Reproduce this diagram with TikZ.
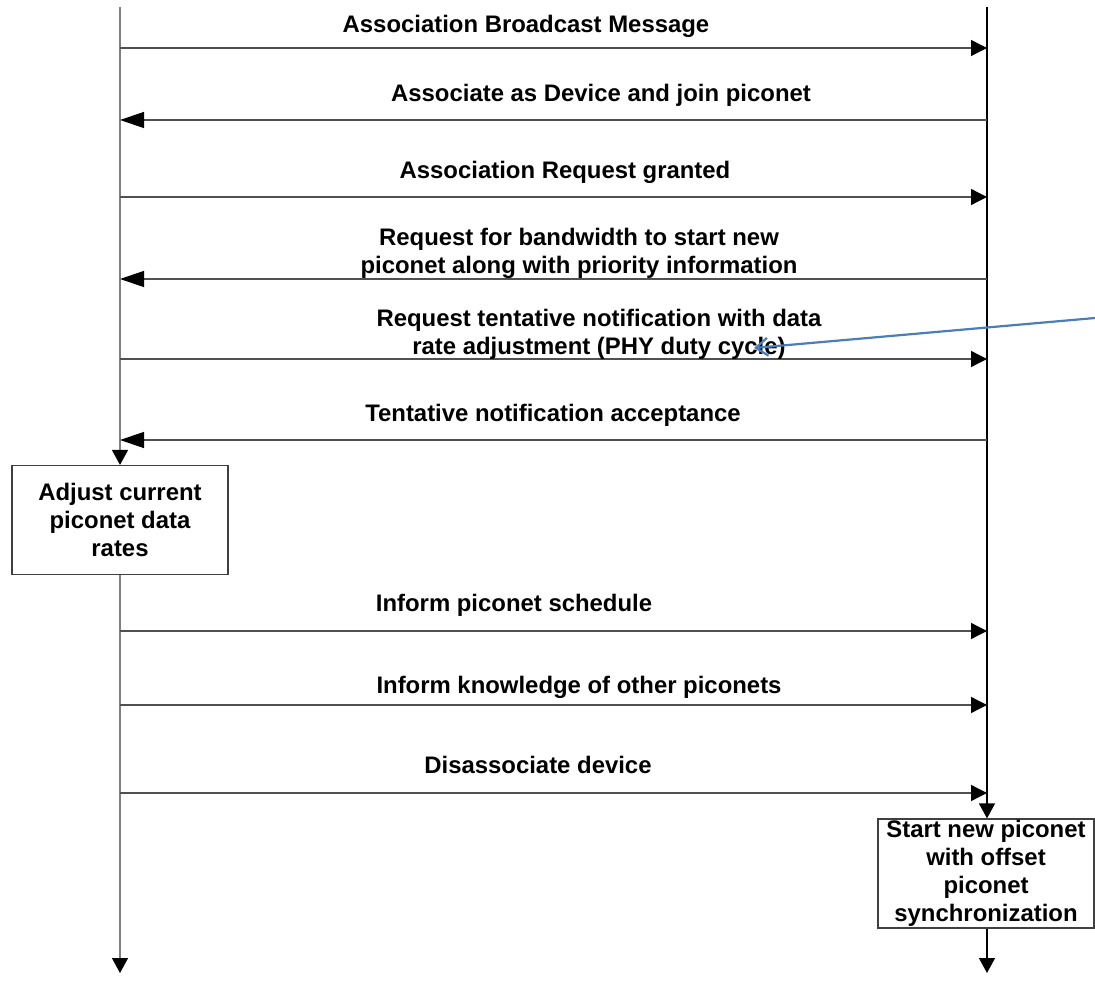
\documentclass[tikz,border=0pt]{standalone}
\usepackage{fontspec}
\setmainfont{Liberation Sans}
\usetikzlibrary{arrows.meta}
\definecolor{msgcol}{HTML}{505050}
\definecolor{lifegray}{HTML}{808080}
\definecolor{boxcol}{HTML}{404040}
\definecolor{notecol}{HTML}{4A7EBB}
\begin{document}
\begin{tikzpicture}[x=1pt,y=-1pt,
  lbl/.style={font=\bfseries\fontsize{23.9}{28}\selectfont, align=center, inner sep=0pt, anchor=base},
  tor/.style={draw=msgcol, line width=1.3pt, -{Triangle[length=16pt,width=16pt,color=black,fill=black]}},
  tol/.style={draw=msgcol, line width=1.3pt, -{Triangle[length=24pt,width=16pt,color=black,fill=black]}},
  down/.style={line width=1.4pt, -{Triangle[length=15pt,width=16pt,color=black,fill=black]}},
  actbox/.style={draw=boxcol, line width=1.2pt, minimum width=216pt, minimum height=109pt, inner sep=0pt,
    align=center, font=\bfseries\fontsize{23.9}{28}\selectfont}]
\useasboundingbox (0,0) rectangle (1095,981);

% lifeline ends
\coordinate (Ltop) at (120,7);
\coordinate (Rtop) at (987,7);
\coordinate (Lbot) at (120,973);
\coordinate (Rbot) at (987,973);

% actions on the lifelines
\node[actbox] (adjust) at (120,520) {Adjust current\\piconet data\\rates};
\node[actbox] (start) at (986,873.5) {Start new piconet\\with offset\\piconet\\synchronization};

% lifelines
\draw[down, draw=lifegray] (Ltop) -- (adjust.north);
\draw[down, draw=lifegray] (adjust.south) -- (Lbot);
\draw[down, draw=black] (Rtop) -- (start.north -| Rtop);
\draw[down, draw=black] (start.south -| Rtop) -- (Rbot);

% message rows
\foreach \n/\y in {1/48,2/120,3/197,4/279,5/359,6/440,7/631,8/705,9/793}{
  \coordinate (L\n) at (120,\y);
  \coordinate (R\n) at (987,\y);
}

\draw[tor] (L1) -- (R1);
\node[lbl] (m1) at (526,32.5) {Association Broadcast Message};
\draw[tol] (R2) -- (L2);
\node[lbl] (m2) at (601,101.5) {Associate as Device and join piconet};
\draw[tor] (L3) -- (R3);
\node[lbl] (m3) at (565,178.5) {Association Request granted};
\draw[tol] (R4) -- (L4);
\node[lbl] (m4) at (579,273.5) {Request for bandwidth to start new\\piconet along with priority information};
\draw[tor] (L5) -- (R5);
\node[lbl] (m5) at (599,354.5) {Request tentative notification with data\\rate adjustment (PHY duty cycle)};
\draw[tol] (R6) -- (L6);
\node[lbl] (m6) at (553,421.5) {Tentative notification acceptance};
\draw[tor] (L7) -- (R7);
\node[lbl] (m7) at (514,611.5) {Inform piconet schedule};
\draw[tor] (L8) -- (R8);
\node[lbl] (m8) at (579,693.5) {Inform knowledge of other piconets};
\draw[tor] (L9) -- (R9);
\node[lbl] (m9) at (538,773.5) {Disassociate device};

% callout pointer
\coordinate (noteA) at (1095,318);
\coordinate (noteB) at (754,348);
\draw[notecol, line width=2.2pt, -{Straight Barb[length=12pt,width=18pt]}] (noteA) -- (noteB);
\end{tikzpicture}
\end{document}
